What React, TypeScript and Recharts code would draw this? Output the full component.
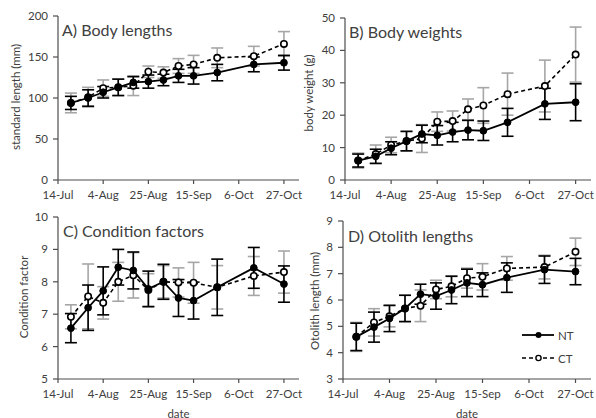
import React from 'react';
import { LineChart, Line, XAxis, YAxis, ErrorBar, Legend } from 'recharts';

const FONT = 'Lato, "Open Sans", sans-serif';
const TEXT = '#404040';
const AXIS = '#4d4d4d';
const GREY = '#a6a6a6';

// sampling dates, and the axis origin
const startDate = '2013-07-14';
const sampleDates = [
  '2013-07-20', '2013-07-28', '2013-08-04', '2013-08-11', '2013-08-18', '2013-08-25',
  '2013-09-01', '2013-09-08', '2013-09-15', '2013-09-26', '2013-10-13', '2013-10-27',
];
const xTickLabels = ['14-Jul', '4-Aug', '25-Aug', '15-Sep', '6-Oct', '27-Oct'];

// A) standard length (mm)
const lengthNT = [94, 100, 107, 113, 119, 120, 122, 127, 127, 131, 141, 143];
const lengthNTErr = [8, 10, 7, 10, 7, 8, 7, 8, 10, 10, 9, 9];
const lengthCT = [94, 101, 112, 113, 115, 132, 131, 139, 141, 149, 151, 166];
const lengthCTErr = [12, 12, 10, 10, 12, 7, 7, 9, 11, 12, 12, 15];

// B) body weight (g)
const weightNT = [6.0, 7.3, 9.8, 12.0, 14.2, 13.8, 14.8, 15.4, 15.2, 17.8, 23.5, 24.0];
const weightNTErr = [2.0, 2.2, 2.0, 3.0, 2.7, 3.0, 3.0, 3.0, 3.0, 4.3, 4.8, 5.7];
const weightCT = [6.0, 8.0, 10.8, 12.0, 12.8, 18.0, 18.2, 21.8, 23.0, 26.5, 29.0, 38.7];
const weightCTErr = [2.3, 2.8, 2.4, 3.0, 4.3, 3.0, 3.1, 3.2, 5.5, 6.5, 8.0, 8.5];

// C) condition factor
const conditionNT = [6.57, 7.2, 7.72, 8.45, 8.35, 7.78, 8.0, 7.5, 7.42, 7.83, 8.43, 7.93];
const conditionNTErr = [0.45, 0.7, 0.74, 0.55, 0.57, 0.55, 0.54, 0.57, 0.57, 0.87, 0.63, 0.56];
const conditionCT = [6.92, 7.55, 7.35, 8.0, 8.2, 7.75, 8.0, 7.98, 7.97, 7.83, 8.18, 8.3];
const conditionCTErr = [0.37, 1.0, 0.5, 0.6, 0.7, 0.5, 0.5, 0.45, 0.63, 0.67, 0.6, 0.65];

// D) otolith length (mm)
const otolithNT = [4.6, 4.97, 5.3, 5.68, 6.22, 6.15, 6.38, 6.65, 6.58, 6.85, 7.15, 7.08];
const otolithNTErr = [0.52, 0.57, 0.5, 0.5, 0.38, 0.5, 0.52, 0.52, 0.45, 0.56, 0.52, 0.5];
const otolithCT = [4.6, 5.15, 5.38, 5.68, 5.78, 6.4, 6.52, 6.83, 6.88, 7.2, 7.25, 7.83];
const otolithCTErr = [0.55, 0.52, 0.4, 0.5, 0.6, 0.35, 0.4, 0.38, 0.5, 0.45, 0.45, 0.52];

const DAY = 86400000;
const sampleDays = sampleDates.map((d) => (Date.parse(d) - Date.parse(startDate)) / DAY);
const xTicks = xTickLabels.map((_, i) => i * 21);

const buildRows = (nt: number[], ntErr: number[], ct: number[], ctErr: number[]) =>
  sampleDays.map((day, i) => ({ day, nt: nt[i], ntErr: ntErr[i], ct: ct[i], ctErr: ctErr[i] }));

const FilledDot = (props: any) => {
  const { cx, cy } = props;
  if (cx == null || cy == null) return null;
  return <circle cx={cx} cy={cy} r={3.4} fill="#000" stroke="#000" strokeWidth={1} />;
};

const OpenDot = (props: any) => {
  const { cx, cy } = props;
  if (cx == null || cy == null) return null;
  return <circle cx={cx} cy={cy} r={3.2} fill="#fff" stroke="#000" strokeWidth={1.6} />;
};

const LegendBox = () => (
  <svg width={60} height={40} style={{ overflow: 'visible' }}>
    <line x1={0} y1={10} x2={32} y2={10} stroke="#000" strokeWidth={1.8} />
    <circle cx={16.5} cy={10} r={3} fill="#000" />
    <text x={36} y={10} dominantBaseline="central" fontSize={11.5} fill={TEXT} fontFamily={FONT}>NT</text>
    <line x1={0} y1={33} x2={32} y2={33} stroke="#000" strokeWidth={1.6} strokeDasharray="4 3" />
    <circle cx={16.5} cy={33} r={2.6} fill="#fff" stroke="#000" strokeWidth={1.4} />
    <text x={36} y={33} dominantBaseline="central" fontSize={11.5} fill={TEXT} fontFamily={FONT}>CT</text>
  </svg>
);

interface PanelProps {
  left: number;
  top: number;
  width: number;
  height: number;
  yWidth: number;
  margin: { top: number; right: number; bottom: number; left: number };
  yDomain: [number, number];
  yTicks: number[];
  yLabel: string;
  yLabelPos: [number, number];
  title: string;
  titlePos: [number, number];
  rows: any[];
  showDate?: boolean;
  showLegend?: boolean;
}

const Panel: React.FC<PanelProps> = (p) => {
  const tickStyle = { fontSize: 11.5, fill: TEXT, fontFamily: FONT };
  return (
    <div style={{ position: 'absolute', left: p.left, top: p.top, width: p.width, height: p.height }}>
      <LineChart width={p.width} height={p.height} data={p.rows} margin={p.margin} style={{ overflow: 'visible' }}>
        <XAxis
          type="number"
          dataKey="day"
          domain={[0, 112]}
          ticks={xTicks}
          interval={0}
          tickFormatter={(v: number) => xTickLabels[Math.round(v / 21)]}
          tick={tickStyle}
          tickSize={4}
          tickMargin={7}
          stroke={AXIS}
          strokeWidth={1.2}
          height={20}
          label={
            p.showDate
              ? (lp: any) => {
                  const vb = lp.viewBox || {};
                  return (
                    <text x={vb.x + vb.width / 2} y={vb.y + 34} textAnchor="middle" dominantBaseline="central"
                      fontSize={11.5} fill={TEXT} fontFamily={FONT}>date</text>
                  );
                }
              : undefined
          }
        />
        <YAxis
          type="number"
          domain={p.yDomain}
          ticks={p.yTicks}
          interval={0}
          width={p.yWidth}
          tick={tickStyle}
          tickSize={5}
          tickMargin={5}
          stroke={AXIS}
          strokeWidth={1.2}
          label={() => (
            <text x={p.yLabelPos[0]} y={p.yLabelPos[1]} textAnchor="middle" dominantBaseline="central"
              transform={`rotate(-90 ${p.yLabelPos[0]} ${p.yLabelPos[1]})`}
              fontSize={11.5} fill={TEXT} fontFamily={FONT}>{p.yLabel}</text>
          )}
        />
        <Line
          dataKey="ct"
          stroke="#000"
          strokeWidth={1.6}
          strokeDasharray="4 3"
          dot={<OpenDot />}
          activeDot={false}
          isAnimationActive={false}
        >
          <ErrorBar dataKey="ctErr" direction="y" width={6} stroke={GREY} strokeWidth={1.6} />
        </Line>
        <Line
          dataKey="nt"
          stroke="#000"
          strokeWidth={1.8}
          dot={<FilledDot />}
          activeDot={false}
          isAnimationActive={false}
        >
          <ErrorBar dataKey="ntErr" direction="y" width={6} stroke="#000" strokeWidth={1.6} />
        </Line>
        {p.showLegend && (
          <Legend
            layout="vertical"
            align="center"
            verticalAlign="middle"
            content={() => <LegendBox />}
            wrapperStyle={{ left: 224, top: 115, width: 60, height: 40 }}
          />
        )}
      </LineChart>
      <div
        style={{
          position: 'absolute',
          left: p.titlePos[0],
          top: p.titlePos[1],
          transform: 'translateY(-50%)',
          fontFamily: FONT,
          fontSize: 16,
          color: TEXT,
          whiteSpace: 'nowrap',
          lineHeight: 1,
        }}
      >
        {p.title}
      </div>
    </div>
  );
};

export default function App() {
  return (
    <div style={{ position: 'absolute', left: 0, top: 0, width: 596, height: 418, background: '#fff' }}>
      <Panel
        left={0} top={0} width={306} height={210} yWidth={58}
        margin={{ top: 16, right: 7, bottom: 10, left: 0 }}
        yDomain={[0, 200]} yTicks={[0, 50, 100, 150, 200]}
        yLabel="standard length (mm)" yLabelPos={[15.5, 97]}
        title="A) Body lengths" titlePos={[62, 30]}
        rows={buildRows(lengthNT, lengthNTErr, lengthCT, lengthCTErr)}
      />
      <Panel
        left={298} top={0} width={298} height={210} yWidth={47}
        margin={{ top: 18, right: 5, bottom: 10, left: 0 }}
        yDomain={[0, 50]} yTicks={[0, 10, 20, 30, 40, 50]}
        yLabel="body weight (g)" yLabelPos={[10, 93]}
        title="B) Body weights" titlePos={[51, 32]}
        rows={buildRows(weightNT, weightNTErr, weightCT, weightCTErr)}
      />
      <Panel
        left={0} top={210} width={306} height={208} yWidth={58}
        margin={{ top: 7, right: 7, bottom: 19, left: 0 }}
        yDomain={[5, 10]} yTicks={[5, 6, 7, 8, 9, 10]}
        yLabel="Condition factor" yLabelPos={[23, 87]}
        title="C) Condition factors" titlePos={[63, 21]}
        rows={buildRows(conditionNT, conditionNTErr, conditionCT, conditionCTErr)}
        showDate
      />
      <Panel
        left={298} top={210} width={298} height={208} yWidth={45}
        margin={{ top: 11, right: 5, bottom: 19, left: 0 }}
        yDomain={[3, 9]} yTicks={[3, 4, 5, 6, 7, 8, 9]}
        yLabel="Otolith length (mm)" yLabelPos={[16, 91]}
        title="D) Otolith lengths" titlePos={[50, 26]}
        rows={buildRows(otolithNT, otolithNTErr, otolithCT, otolithCTErr)}
        showDate
        showLegend
      />
    </div>
  );
}
